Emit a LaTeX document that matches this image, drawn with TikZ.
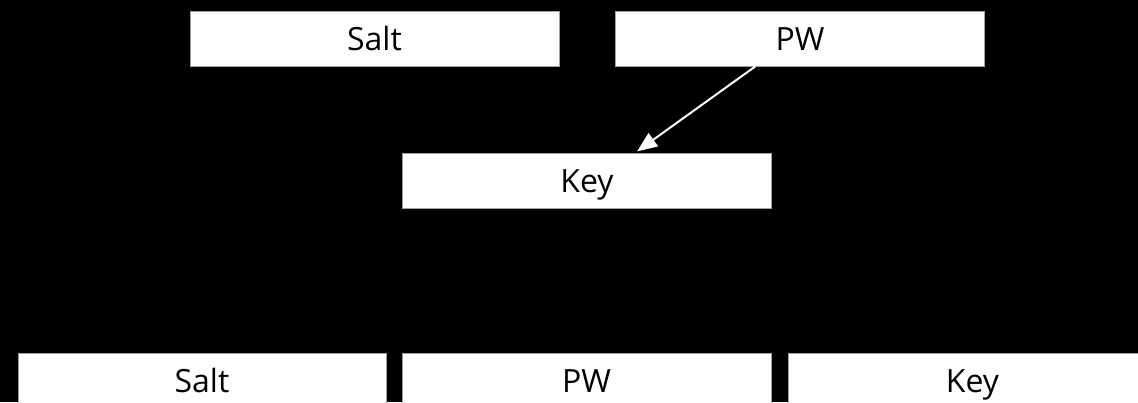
\documentclass[tikz,border=0pt]{standalone}
\usepackage{fontspec}
\setmainfont{Open Sans}
\usetikzlibrary{arrows.meta}
\definecolor{BoxFill}{HTML}{FFFFFF}
\definecolor{BoxLine}{HTML}{A0A0A0}
\definecolor{ArrowLine}{HTML}{FFFFFF}

\begin{document}
\begin{tikzpicture}[
	x=1pt, y=-1pt, % one unit is one pixel of the original
	% Style for the white boxes
	field/.style={
		rectangle,
		fill=BoxFill,
		draw=BoxLine,
		line width=1pt,
		text=black,
		inner sep=0pt,
		text height=25pt,
		text depth=2pt,
		minimum width=369pt,
		minimum height=55pt,
		font=\fontsize{32}{36}\selectfont
	},
	% Style for the arrow
	link/.style={
		draw=ArrowLine,
		line width=2pt,
		-{Triangle[length=20pt,width=16pt]},
		shorten >=2pt
	}
	]
	
	% ================= BACKGROUND =================
	\fill[black] (0,0) rectangle (1138,402);
	\useasboundingbox (0,0) rectangle (1138,402);
	\clip (0,0) rectangle (1138,402);
	
	% ================= NODES =================
	\node[field] (SaltTop) at (374.5, 38.5) {Salt};
	\node[field] (PWTop)   at (800.0, 38.5) {PW};
	\node[field] (KeyMid)  at (587.0,180.5) {Key};
	
	\node[field, minimum width=368pt] (SaltBot) at (202.0,380.5) {Salt};
	\node[field] (PWBot)   at (586.5,380.5) {PW};
	\node[field] (KeyBot)  at (972.5,380.5) {Key};
	
	% ================= EDGES =================
	\draw[link] (PWTop.212.6) -- (KeyMid.30.3);
	
\end{tikzpicture}
\end{document}
